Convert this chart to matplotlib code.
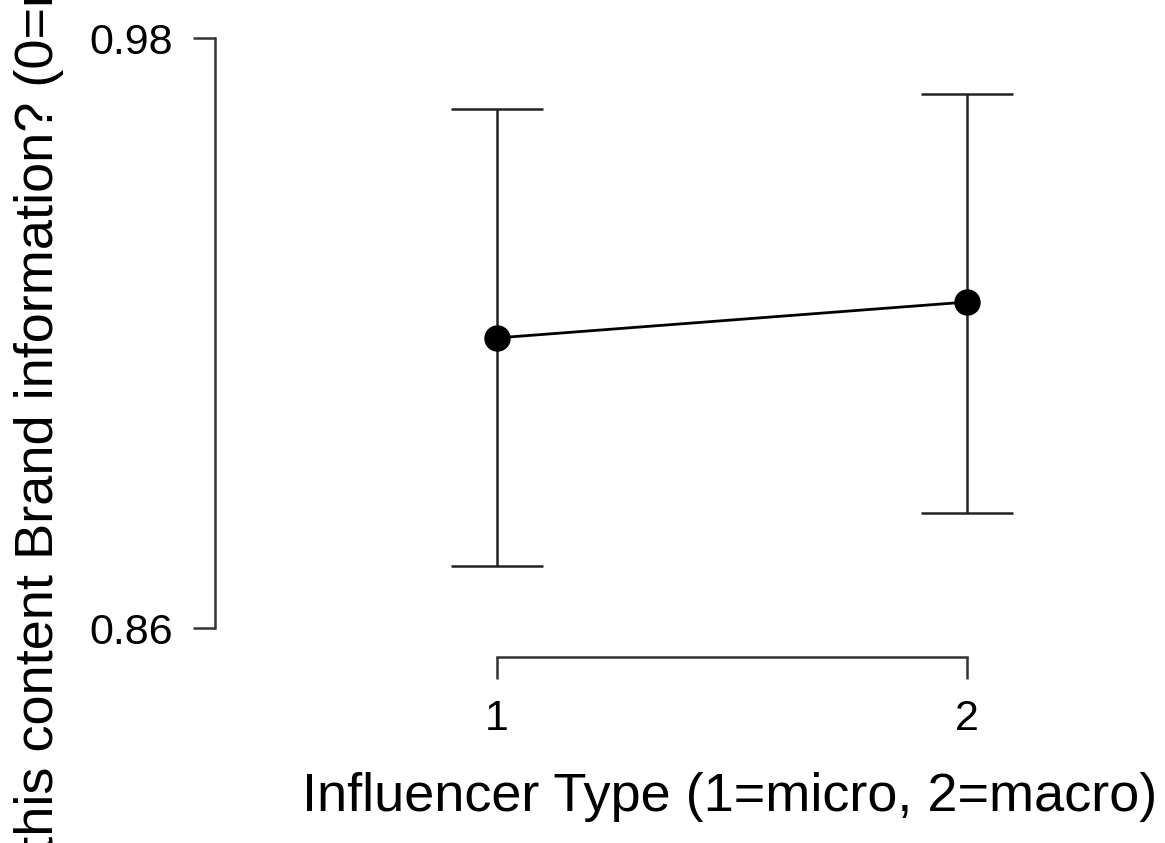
import matplotlib
matplotlib.use("Agg")
import matplotlib.pyplot as plt

plt.rcParams['font.family'] = ['Liberation Sans', 'DejaVu Sans']

# data
influencer_type = [1, 2]
mean_values = [0.9190, 0.9263]
ci_lower = [0.8726, 0.8834]
ci_upper = [0.9656, 0.9686]
y_ticks = [0.86, 0.98]
x_label = "Influencer Type (1=micro, 2=macro)"
y_label = "Is this content Brand information? (0=no, 1=yes)"

W, H = 1165, 843
fig = plt.figure(figsize=(W / 100, H / 100), dpi=100)

# axes frame in pixel terms (left/bottom edge = spine positions)
left_px, right_px, top_px, bottom_px = 215, 1155, 15, 657
ax = fig.add_axes([left_px / W, (H - bottom_px) / H,
                   (right_px - left_px) / W, (bottom_px - top_px) / H])

# pixel positions of data anchors used to derive limits
x1_px, x2_px = 497, 967
y98_px, y86_px = 38, 628
xs = (x2_px - x1_px) / 1.0
ys = (y86_px - y98_px) / 0.12
ax.set_xlim(1 - (x1_px - left_px) / xs, 2 + (right_px - x2_px) / xs)
ax.set_ylim(0.86 - (bottom_px - y86_px) / ys, 0.98 + (y98_px - top_px) / ys)

yerr = [[m - lo for m, lo in zip(mean_values, ci_lower)],
        [hi - m for m, hi in zip(mean_values, ci_upper)]]
ax.errorbar(influencer_type, mean_values, yerr=yerr, fmt='none',
            ecolor='#222222', elinewidth=1.8, capsize=33, capthick=1.8, zorder=2)
ax.plot(influencer_type, mean_values, color='black', linewidth=2.0,
        marker='o', markersize=18, markerfacecolor='black', zorder=3)

for s in ['top', 'right']:
    ax.spines[s].set_visible(False)
ax.spines['left'].set_bounds(y_ticks[0], y_ticks[-1])
ax.spines['bottom'].set_bounds(influencer_type[0], influencer_type[-1])
for s in ['left', 'bottom']:
    ax.spines[s].set_linewidth(1.8)
    ax.spines[s].set_color('#333333')

ax.set_yticks(y_ticks)
ax.set_yticklabels([f"{v:.2f}" for v in y_ticks])
ax.set_xticks(influencer_type)
ax.tick_params(axis='both', length=16, width=1.8, color='#333333',
               labelsize=31, pad=14)

ax.set_xlabel(x_label, fontsize=39)
ax.xaxis.set_label_coords(((310 + 1150) / 2 - left_px) / (right_px - left_px),
                          -(797 - bottom_px) / (bottom_px - top_px))
ax.xaxis.label.set_va('center')

fig.text(53 / W, (H - 908) / H, y_label, rotation=90, rotation_mode='anchor',
         ha='left', va='baseline', fontsize=39)

fig.savefig("out.png", dpi=100)
